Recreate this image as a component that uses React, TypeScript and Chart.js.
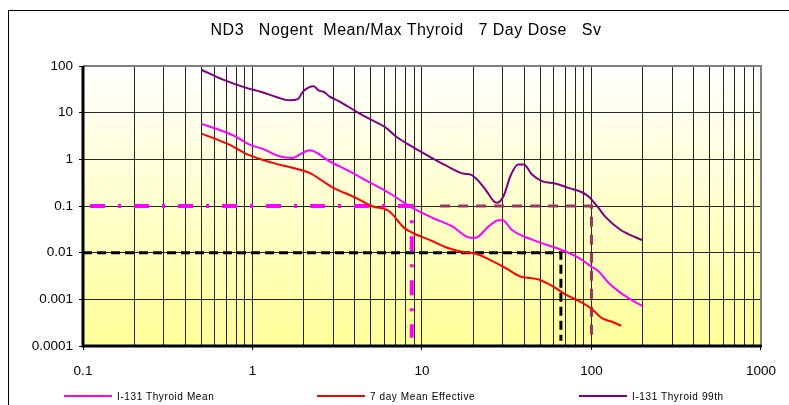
import React, { useEffect, useRef } from "react";
import { Chart, registerables } from "chart.js";

Chart.register(...registerables);

// ---------- data ----------
const titleText = "ND3   Nogent  Mean/Max Thyroid   7 Day Dose   Sv";

const xTickLabels = ["0.1", "1", "10", "100", "1000"];
const yTickLabels = ["0.0001", "0.001", "0.01", "0.1", "1", "10", "100"];

const meanLabel = "I-131 Thyroid Mean";
const meanX = [0.5, 0.67, 0.8, 0.96, 1.15, 1.44, 1.73, 1.89, 2.18, 2.84, 3.72, 4.88, 6.4, 8.77, 11.5, 15, 19.3, 20.7, 24.8, 28.3, 30, 33.8, 44.6, 53.6, 65.6, 83.7, 100, 110, 126, 148, 170, 200];
const meanY = [5.74, 3.99, 3.03, 2.07, 1.67, 1.16, 1.07, 1.26, 1.56, 0.91, 0.556, 0.324, 0.19, 0.091, 0.056, 0.037, 0.0209, 0.0209, 0.037, 0.0497, 0.0497, 0.031, 0.019, 0.015, 0.0117, 0.0078, 0.005, 0.004, 0.00227, 0.00139, 0.001, 0.00072];

const effLabel = "7 day Mean Effective";
const effX = [0.5, 0.73, 0.94, 1.32, 1.98, 2.17, 2.96, 4.07, 5.1, 6.4, 7.85, 8.77, 11, 13.8, 17.2, 20.7, 24.8, 31, 37.5, 48.8, 57.8, 70, 87.8, 100, 116, 132, 150];
const effY = [3.56, 2.07, 1.26, 0.84, 0.575, 0.513, 0.252, 0.15, 0.099, 0.077, 0.034, 0.0267, 0.019, 0.0131, 0.0105, 0.0096, 0.0072, 0.00475, 0.00315, 0.00267, 0.002, 0.00128, 0.00085, 0.00063, 0.00039, 0.00033, 0.00027];

const p99Label = "I-131 Thyroid 99th";
const p99X = [0.5, 0.67, 0.92, 1.13, 1.38, 1.65, 1.85, 1.98, 2.15, 2.3, 2.45, 2.65, 2.84, 3.25, 4.07, 5.0, 6.1, 7.0, 8.8, 11, 13.8, 17.7, 19.1, 20.7, 23.7, 26.5, 27.7, 30.4, 33.2, 36.9, 39.8, 44.6, 51, 61, 73, 88, 96, 110, 120, 148, 165, 200];
const p99Y = [83, 51, 34, 27.7, 21.7, 18.4, 19.5, 28, 35, 37, 30, 27.5, 22.4, 17.5, 10.7, 7.1, 4.8, 3.12, 1.85, 1.16, 0.74, 0.49, 0.48, 0.4, 0.225, 0.127, 0.117, 0.168, 0.434, 0.773, 0.773, 0.472, 0.34, 0.303, 0.245, 0.197, 0.16, 0.091, 0.06, 0.031, 0.025, 0.0185];

// reference (threshold) lines
const refMeanX = [0.11, 8.7, 8.7];
const refMeanY = [0.1, 0.1, 0.00015];
const refEffX = [0.1, 66, 66];
const refEffY = [0.01, 0.01, 0.00013];
const refP99X = [12.8, 100, 100];
const refP99Y = [0.1, 0.1, 0.00014];

// ---------- helpers ----------
const pts = (xs: number[], ys: number[]) => xs.map((x, i) => ({ x, y: ys[i] }));
const isPow10 = (v: number) => Math.abs(Math.log10(v) - Math.round(Math.log10(v))) < 1e-9;
const FONT = "'Liberation Sans', Arial, sans-serif";

const bgPlugin = {
  id: "bg",
  beforeDraw(chart: any) {
    const { ctx, chartArea: a } = chart;
    const g = ctx.createLinearGradient(0, a.top, 0, a.bottom);
    g.addColorStop(0, "#FFFFFF");
    g.addColorStop(1, "#FFFF99");
    ctx.save();
    ctx.fillStyle = g;
    ctx.fillRect(a.left, a.top, a.right - a.left, a.bottom - a.top);
    ctx.restore();
  },
  afterDraw(chart: any) {
    const { ctx, chartArea: a } = chart;
    ctx.save();
    ctx.strokeStyle = "#808080";
    ctx.lineWidth = 2;
    ctx.beginPath();
    ctx.moveTo(a.left, a.top);
    ctx.lineTo(a.right, a.top);
    ctx.lineTo(a.right, a.bottom);
    ctx.stroke();
    ctx.strokeStyle = "#000000";
    ctx.lineWidth = 3;
    ctx.beginPath();
    ctx.moveTo(a.left, a.top);
    ctx.lineTo(a.left, a.bottom);
    ctx.lineTo(a.right + 1, a.bottom);
    ctx.stroke();
    ctx.restore();
  },
};

export default function App() {
  const ref = useRef<HTMLCanvasElement>(null);

  useEffect(() => {
    if (!ref.current) return;
    const line = (label: string, xs: number[], ys: number[], color: string, width: number, order: number, dash: number[] = []) => ({
      label,
      data: pts(xs, ys),
      borderColor: color,
      backgroundColor: color,
      borderWidth: width,
      borderDash: dash,
      pointRadius: 0,
      fill: false,
      cubicInterpolationMode: dash.length ? "default" : "monotone",
      tension: 0,
      order,
    });

    const chart = new Chart(ref.current, {
      type: "line",
      data: {
        datasets: [
          line(meanLabel, meanX, meanY, "#FF00FF", 2, 1),
          line(effLabel, effX, effY, "#FF0000", 2, 2),
          line(p99Label, p99X, p99Y, "#800080", 2, 3),
          line("Mean limit", refMeanX, refMeanY, "#FF00FF", 4, 4, [15, 13, 3, 13]),
          line("Effective limit", refEffX, refEffY, "#000000", 3, 5, [9, 5]),
          line("99th limit", refP99X, refP99Y, "#993366", 3, 6, [10, 8]),
        ] as any,
      },
      options: {
        responsive: false,
        animation: false,
        layout: { padding: { left: 0, top: 66, right: 26, bottom: 0 } },
        plugins: { legend: { display: false }, title: { display: false }, tooltip: { enabled: false } },
        scales: {
          x: {
            type: "logarithmic",
            min: 0.1,
            max: 1000,
            afterFit: (s: any) => { s.height = 59; },
            afterBuildTicks: (s: any) => {
              const t: any[] = [];
              for (let d = -1; d <= 2; d++) {
                for (let m = 1; m <= 9; m++) t.push({ value: Number((m * Math.pow(10, d)).toPrecision(6)) });
              }
              t.push({ value: 1000 });
              s.ticks = t;
            },
            ticks: {
              autoSkip: false,
              maxRotation: 0,
              padding: 13,
              color: "#000",
              font: { family: FONT, size: 13.5 },
              callback: (v: any) => {
                const n = Number(v);
                return isPow10(n) ? xTickLabels[Math.round(Math.log10(n)) + 1] : "";
              },
            },
            grid: {
              color: "rgba(0,0,0,0.85)",
              lineWidth: 1,
              tickLength: 4,
              tickColor: (c: any) => (c.tick && isPow10(c.tick.value) ? "#000" : "rgba(0,0,0,0)"),
            },
            border: { display: false },
          },
          y: {
            type: "logarithmic",
            min: 0.0001,
            max: 100,
            afterFit: (s: any) => { s.width = 83; },
            afterBuildTicks: (s: any) => {
              s.ticks = yTickLabels.map((_, i) => ({ value: Number(Math.pow(10, i - 4).toPrecision(6)) }));
            },
            ticks: {
              autoSkip: false,
              padding: 6,
              color: "#000",
              font: { family: FONT, size: 13.5 },
              callback: (v: any) => yTickLabels[Math.round(Math.log10(Number(v))) + 4],
            },
            grid: { color: "rgba(0,0,0,0.85)", lineWidth: 1, tickLength: 4, tickColor: "#000" },
            border: { display: false },
          },
        },
      } as any,
      plugins: [bgPlugin],
    });
    return () => chart.destroy();
  }, []);

  const legendItems = [
    { label: meanLabel, color: "#FF00FF", x: 64 },
    { label: effLabel, color: "#FF0000", x: 317 },
    { label: p99Label, color: "#800080", x: 579 },
  ];

  return (
    <div style={{ position: "absolute", left: 0, top: 0, width: 789, height: 405, background: "#fff", overflow: "hidden", fontFamily: FONT }}>
      <div style={{ position: "absolute", left: 8, top: 10, width: 900, height: 500, borderTop: "1px solid #000", borderLeft: "1px solid #000" }} />
      <canvas ref={ref} width={789} height={405} style={{ position: "absolute", left: 0, top: 0, width: 789, height: 405 }} />
      <div style={{ position: "absolute", left: 0, width: 812, top: 21, textAlign: "center", whiteSpace: "pre", fontSize: 16, letterSpacing: 0.5, color: "#000" }}>
        {titleText}
      </div>
      {legendItems.map((it) => (
        <div key={it.label} style={{ position: "absolute", left: it.x, top: 389, height: 14, display: "flex", alignItems: "center", whiteSpace: "nowrap" }}>
          <div style={{ width: 48, height: 2, background: it.color, marginRight: 5 }} />
          <span style={{ fontSize: 10, letterSpacing: 0.6, color: "#000" }}>{it.label}</span>
        </div>
      ))}
    </div>
  );
}
